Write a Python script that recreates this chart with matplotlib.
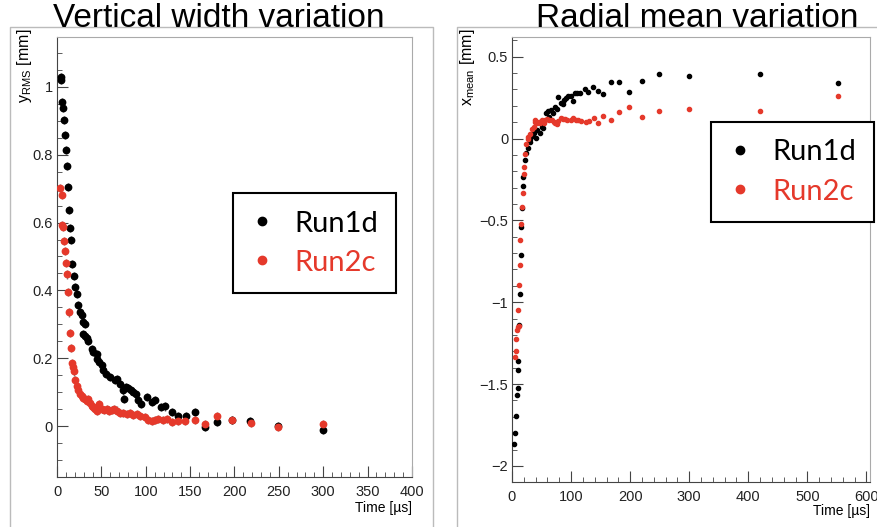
import matplotlib
matplotlib.use("Agg")
import matplotlib.pyplot as plt
from matplotlib.lines import Line2D
from matplotlib.ticker import MultipleLocator

plt.rcParams["font.family"] = ["Liberation Sans", "DejaVu Sans"]
plt.rcParams["mathtext.default"] = "regular"

RED = "#e5392b"

# ---- vertical width (y_RMS) ----
w_t_run1d = [4.5, 4.8, 5.6, 7.1, 7.9, 9.4, 10.1, 11.3, 12.0, 13.9, 15.0, 15.8, 17.3, 18.8,
             20.3, 22.2, 24.1, 26.0, 27.8, 29.7, 31.5, 29.7, 31.5, 34.2, 35.3, 39.0, 40.9,
             44.7, 45.4, 47.7, 50.3, 52.1, 55.2, 59.7, 65.4, 68.0, 71.0, 74.7, 75.5, 77.7,
             80.4, 83.0, 86.0, 89.0, 91.6, 94.2, 101.0, 106.7, 110.4, 116.8, 121.7, 129.2,
             136.7, 145.4, 155.5, 166.8, 180.0, 197.5, 218.0, 249.4, 299.4]
w_y_run1d = [1.030, 1.020, 0.956, 0.938, 0.902, 0.857, 0.813, 0.766, 0.705, 0.638, 0.584,
             0.548, 0.477, 0.443, 0.410, 0.390, 0.356, 0.337, 0.327, 0.307, 0.302, 0.272,
             0.267, 0.260, 0.252, 0.228, 0.218, 0.213, 0.198, 0.189, 0.179, 0.164, 0.154,
             0.145, 0.135, 0.140, 0.125, 0.105, 0.081, 0.115, 0.113, 0.105, 0.100, 0.095,
             0.076, 0.065, 0.086, 0.071, 0.076, 0.056, 0.058, 0.041, 0.029, 0.029, 0.041,
             -0.003, 0.012, 0.019, 0.015, 0.000, -0.010]
w_t_run2c = [3.8, 5.3, 6.0, 6.4, 7.9, 9.4, 10.1, 11.6, 12.6, 13.9, 15.0, 15.9, 17.0, 17.8,
             18.8, 20.4, 22.1, 24.0, 25.9, 27.8, 29.7, 31.5, 33.4, 35.3, 37.2, 39.1, 40.9,
             42.8, 44.7, 47.7, 50.3, 53.0, 56.0, 59.0, 61.6, 64.2, 67.2, 71.0, 74.7, 78.5,
             82.3, 86.0, 89.8, 93.5, 99.2, 103.0, 106.7, 110.4, 114.0, 119.0, 123.6, 129.2,
             136.7, 144.5, 155.5, 166.8, 180.0, 197.5, 218.2, 249.4, 299.4]
w_y_run2c = [0.703, 0.680, 0.592, 0.588, 0.545, 0.516, 0.481, 0.447, 0.395, 0.335, 0.274,
             0.231, 0.186, 0.174, 0.161, 0.136, 0.117, 0.107, 0.096, 0.088, 0.084, 0.080,
             0.074, 0.081, 0.068, 0.058, 0.056, 0.051, 0.046, 0.066, 0.051, 0.048, 0.051,
             0.046, 0.048, 0.051, 0.046, 0.038, 0.038, 0.035, 0.038, 0.032, 0.035, 0.029,
             0.027, 0.017, 0.015, 0.019, 0.022, 0.019, 0.022, 0.012, 0.015, 0.015, 0.017,
             0.005, 0.029, 0.017, 0.009, -0.003, 0.007]
w_err = 0.012

# ---- radial mean (x_mean) ----
m_t_run1d = [3.9, 5.6, 6.7, 8.4, 9.5, 10.1, 10.6, 12.3, 14.0, 14.6, 15.7, 16.9, 17.9, 18.6,
             21.3, 24.1, 26.9, 29.7, 30.9, 33.7, 36.6, 41.0, 42.2, 46.6, 50.6, 52.3, 57.9,
             60.1, 61.8, 65.8, 69.2, 73.1, 76.0, 78.7, 82.7, 86.0, 88.2, 91.6, 95.5, 99.4,
             102.9, 106.8, 110.7, 115.2, 123.7, 129.3, 137.7, 146.1, 154.6, 167.0, 181.5,
             198.4, 219.3, 248.0, 299.6, 419.0, 552.3]
m_y_run1d = [-1.866, -1.798, -1.694, -1.564, -1.523, -1.413, -1.360, -1.138, -0.952, -0.714,
             -0.541, -0.424, -0.292, -0.235, -0.133, -0.088, -0.061, -0.021, 0.000, 0.014,
             0.034, 0.006, 0.051, 0.031, 0.071, 0.067, 0.157, 0.167, 0.132, 0.177, 0.157,
             0.190, 0.183, 0.251, 0.218, 0.210, 0.234, 0.245, 0.259, 0.259, 0.230, 0.275,
             0.275, 0.279, 0.300, 0.285, 0.316, 0.291, 0.271, 0.346, 0.346, 0.285, 0.352,
             0.393, 0.381, 0.393, 0.342]
m_t_run2c = [5.0, 6.1, 7.3, 8.4, 10.1, 10.6, 11.1, 12.3, 14.0, 14.3, 15.2, 16.9, 17.9, 19.6,
             20.2, 22.4, 24.1, 26.3, 27.5, 30.9, 33.7, 36.6, 38.3, 39.3, 42.2, 44.9, 47.8,
             50.6, 53.4, 56.2, 59.0, 63.4, 67.5, 70.4, 73.1, 76.0, 78.7, 82.7, 86.0, 89.9,
             93.8, 99.4, 104.0, 108.5, 112.4, 116.9, 125.4, 130.9, 138.9, 146.1, 153.5,
             167.0, 181.5, 198.4, 219.3, 248.0, 299.6, 419.0, 552.3]
m_y_run2c = [-1.336, -1.297, -1.223, -1.168, -1.152, -1.050, -1.146, -0.894, -0.775, -0.622,
             -0.524, -0.418, -0.333, -0.214, -0.174, -0.096, -0.031, 0.010, 0.000, 0.030,
             0.061, 0.071, 0.098, 0.112, 0.095, 0.102, 0.092, 0.112, 0.095, 0.112, 0.122,
             0.116, 0.116, 0.102, 0.092, 0.087, 0.108, 0.128, 0.122, 0.122, 0.116, 0.116,
             0.128, 0.116, 0.112, 0.108, 0.102, 0.108, 0.128, 0.095, 0.136, 0.116, 0.163,
             0.190, 0.132, 0.167, 0.183, 0.171, 0.257]

W, H = 878, 527
fig = plt.figure(figsize=(W / 100, H / 100), dpi=100)


def px(x0, y0, x1, y1):
    # pixel box (top-left origin) -> figure fraction rect
    return [x0 / W, 1 - y1 / H, (x1 - x0) / W, (y1 - y0) / H]


def style_axes(ax):
    for s in ["left", "bottom"]:
        ax.spines[s].set_color("#444444")
    for s in ["top", "right"]:
        ax.spines[s].set_color("#aaaaaa")
    ax.tick_params(which="both", direction="in", top=False, right=False,
                   color="#444444", labelsize=10.5, labelcolor="#222222")
    ax.tick_params(which="major", length=8)
    ax.tick_params(which="minor", length=3.8)


# canvas frames
for xs, ys in [([10, 10, 433, 433], [H, 27, 27, H]), ([457, 457, W], [H, 27, 27])]:
    fig.add_artist(Line2D([x / W for x in xs], [1 - y / H for y in ys],
                          color="#bbbbbb", lw=1, transform=fig.transFigure))

# left panel
ax1 = fig.add_axes(px(57, 37, 412, 477))
ax1.errorbar(w_t_run1d, w_y_run1d, yerr=w_err, fmt="o", ms=4.6, color="black",
             ecolor="#555555", elinewidth=1, capsize=0, zorder=3)
ax1.errorbar(w_t_run2c, w_y_run2c, yerr=w_err, fmt="o", ms=4.6, color=RED,
             ecolor="#777777", elinewidth=1, capsize=0, zorder=3)
ax1.set_xlim(0, 400)
ax1.set_ylim(-0.15, 1.147)
ax1.xaxis.set_major_locator(MultipleLocator(50))
ax1.xaxis.set_minor_locator(MultipleLocator(10))
ax1.yaxis.set_minor_locator(MultipleLocator(0.05))
ax1.set_yticks([0, 0.2, 0.4, 0.6, 0.8, 1.0])
ax1.set_yticklabels(["0", "0.2", "0.4", "0.6", "0.8", "1"])
style_axes(ax1)
ax1.tick_params(axis="x", pad=5.5)
ax1.tick_params(axis="y", pad=3)
ax1.set_xlabel("Time [µs]", fontsize=10, loc="right")
ax1.xaxis.set_label_coords(1.0, -0.055)
ax1.xaxis.label.set_va("top")
ax1.set_ylabel("y$_{RMS}$ [mm]", fontsize=11.5, loc="top")
ax1.yaxis.set_label_coords(-0.066, 1.02)

# right panel
ax2 = fig.add_axes(px(512, 37, 870, 482))
ax2.plot(m_t_run1d, m_y_run1d, "o", ms=3, color="black", zorder=3)
ax2.plot(m_t_run2c, m_y_run2c, "o", ms=3, color=RED, zorder=3)
ax2.set_xlim(0, 606)
ax2.set_ylim(-2.098, 0.62)
ax2.xaxis.set_major_locator(MultipleLocator(100))
ax2.xaxis.set_minor_locator(MultipleLocator(20))
ax2.set_yticks([-2, -1.5, -1, -0.5, 0, 0.5])
ax2.set_yticklabels(["\u22122", "\u22121.5", "\u22121", "\u22120.5", "0", "0.5"])
ax2.yaxis.set_minor_locator(MultipleLocator(0.1))
style_axes(ax2)
ax2.tick_params(axis="x", pad=6)
ax2.tick_params(axis="y", pad=2.7)
ax2.set_xlabel("Time [µs]", fontsize=10, loc="right")
ax2.xaxis.set_label_coords(1.0, -0.05)
ax2.xaxis.label.set_va("top")
ax2.set_ylabel("x$_{mean}$ [mm]", fontsize=11.5, loc="top")
ax2.yaxis.set_label_coords(-0.098, 1.02)

# titles
fig.text(219 / W, 1 - 26.7 / H, "Vertical width variation", ha="center", va="baseline",
         fontsize=24, color="black")
fig.text(697.5 / W, 1 - 26.7 / H, "Radial mean variation", ha="center", va="baseline",
         fontsize=24, color="black")

# legends
for ax, (lx, ly) in [(ax1, (233, 193)), (ax2, (711, 122))]:
    handles = [Line2D([], [], ls="none", marker="o", ms=6, color="black"),
               Line2D([], [], ls="none", marker="o", ms=6, color=RED)]
    leg = ax.legend(handles, ["Run1d", "Run2c"], loc="upper left",
                    bbox_to_anchor=(lx / W, 1 - ly / H), bbox_transform=fig.transFigure,
                    prop={"family": ["Lato", "DejaVu Sans"], "size": 21},
                    labelcolor=["black", RED], frameon=True, fancybox=False,
                    edgecolor="black", borderpad=0.6, labelspacing=0.45,
                    handlelength=0.8, handletextpad=0.7, borderaxespad=0)
    leg.get_frame().set_linewidth(1.5)
    leg.get_frame().set_alpha(1)

fig.savefig("out.png", dpi=100)
